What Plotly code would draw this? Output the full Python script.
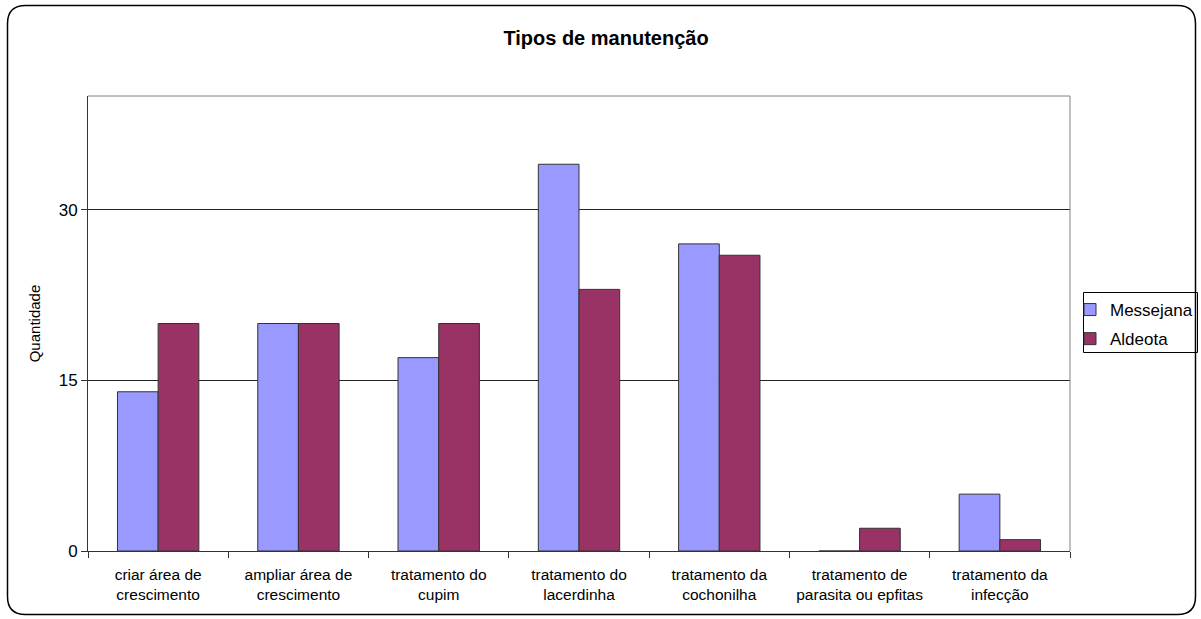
import plotly.graph_objects as go

categories = ["criar área de<br>crescimento", "ampliar área de<br>crescimento", "tratamento do<br>cupim",
              "tratamento do<br>lacerdinha", "tratamento da<br>cochonilha", "tratamento de<br>parasita ou epfitas",
              "tratamento da<br>infecção"]
messejana = [14, 20, 17, 34, 27, 0, 5]
aldeota = [20, 20, 20, 23, 26, 2, 1]

W, H = 1201, 619
L, R, T, B = 88, 1070, 96, 551
pw, ph = R - L, B - T

def px(x):
    return (x - L) / pw

def py(y):
    return (B - y) / ph

fig = go.Figure()
fig.add_trace(go.Bar(x=categories, y=messejana, name="Messejana", legendgroup="a",
                     marker=dict(color="#9999FF", line=dict(color="#333333", width=1))))
fig.add_trace(go.Bar(x=categories, y=aldeota, name="Aldeota", legendgroup="b",
                     marker=dict(color="#993366", line=dict(color="#333333", width=1))))

# rounded outer border (all four corners)
x0, x1, yt, yb, r = 7.5, 1195.5, 5.5, 614.5, 18
path = (f"M {px(x0 + r)},{py(yt)} L {px(x1 - r)},{py(yt)} Q {px(x1)},{py(yt)} {px(x1)},{py(yt + r)} "
        f"L {px(x1)},{py(yb - r)} Q {px(x1)},{py(yb)} {px(x1 - r)},{py(yb)} "
        f"L {px(x0 + r)},{py(yb)} Q {px(x0)},{py(yb)} {px(x0)},{py(yb - r)} "
        f"L {px(x0)},{py(yt + r)} Q {px(x0)},{py(yt)} {px(x0 + r)},{py(yt)} Z")

fig.update_layout(
    width=W, height=H,
    margin=dict(l=L, r=W - R, t=T, b=H - B, autoexpand=False),
    paper_bgcolor="white", plot_bgcolor="white",
    font=dict(family="Liberation Sans, Arial, sans-serif", size=15, color="black"),
    title=dict(text="<b>Tipos de manutenção</b>", x=606 / W, xref="container", xanchor="center",
               y=1 - 38 / H, yanchor="middle", font=dict(size=20)),
    barmode="group", bargap=0.42, bargroupgap=0,
    showlegend=True,
    legend=dict(x=px(1198), y=py(292), xanchor="right", yanchor="top", borderwidth=0,
                font=dict(size=17), bgcolor="rgba(0,0,0,0)", tracegroupgap=4, itemwidth=30),
    xaxis=dict(type="category", tickson="boundaries", ticks="outside", ticklen=6, tickcolor="#333333",
               showline=True, linecolor="#333333", linewidth=1, mirror=False, showgrid=False,
               tickfont=dict(size=15.5), tickangle=0, ticklabelstandoff=9),
    yaxis=dict(range=[0, 40], dtick=15, tick0=0, ticks="outside", ticklen=6, tickcolor="#333333",
               showline=True, linecolor="#333333", linewidth=1, showgrid=True, gridcolor="#222222",
               gridwidth=1, zeroline=False, tickfont=dict(size=17),
               title=dict(text="Quantidade", font=dict(size=15), standoff=14)),
    shapes=[
        dict(type="line", xref="paper", yref="paper", x0=0, x1=1, y0=1, y1=1, line=dict(color="#808080", width=1)),
        dict(type="line", xref="paper", yref="paper", x0=1, x1=1, y0=0, y1=1, line=dict(color="#808080", width=1)),
        dict(type="rect", xref="paper", yref="paper", x0=px(1083.5), x1=px(1197.5), y0=py(292.5), y1=py(352.5),
             line=dict(color="black", width=1), layer="below"),
        dict(type="path", xref="paper", yref="paper", path=path, line=dict(color="black", width=1.5), layer="above"),
    ],
)

fig.write_html("out.html")
